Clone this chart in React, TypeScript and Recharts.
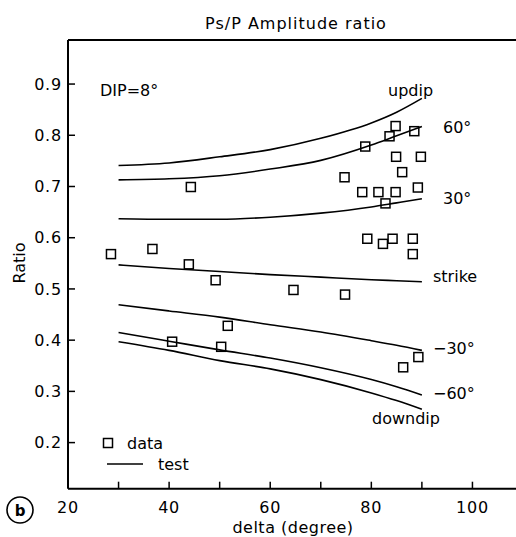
import React from 'react';
import { ComposedChart, Line, Scatter, XAxis, YAxis, ReferenceLine } from 'recharts';

// model curves, sampled at these epicentral distances
const DELTA = [30, 40, 50, 60, 70, 80, 85, 90];
const UPDIP = [0.741, 0.746, 0.758, 0.772, 0.794, 0.824, 0.845, 0.872];
const RAKE_60 = [0.713, 0.715, 0.721, 0.734, 0.751, 0.781, 0.799, 0.817];
const RAKE_30 = [0.637, 0.636, 0.636, 0.64, 0.648, 0.66, 0.668, 0.676];
const STRIKE = [0.547, 0.54, 0.534, 0.528, 0.523, 0.518, 0.516, 0.514];
const RAKE_M30 = [0.469, 0.457, 0.445, 0.43, 0.416, 0.399, 0.39, 0.38];
const RAKE_M60 = [0.415, 0.398, 0.381, 0.365, 0.346, 0.323, 0.309, 0.293];
const DOWNDIP = [0.397, 0.38, 0.36, 0.344, 0.323, 0.297, 0.282, 0.265];

// observed ratios
const OBS_DELTA = [
  28.5, 36.7, 43.9, 49.2, 64.6, 51.6, 40.6, 50.3, 44.3, 84.8,
  88.5, 83.6, 78.8, 84.9, 89.8, 86.1, 74.7, 78.2, 81.4, 84.8,
  89.2, 82.8, 79.2, 82.3, 84.2, 88.2, 88.2, 74.8, 89.3, 86.3,
];
const OBS_RATIO = [
  0.568, 0.578, 0.548, 0.517, 0.498, 0.428, 0.397, 0.387, 0.699, 0.818,
  0.808, 0.798, 0.778, 0.758, 0.758, 0.728, 0.718, 0.689, 0.689, 0.689,
  0.698, 0.667, 0.598, 0.588, 0.598, 0.598, 0.568, 0.489, 0.367, 0.347,
];

const X_TICKS = [20, 30, 40, 50, 60, 70, 80, 90, 100, 110];
const Y_TICKS = [0.2, 0.3, 0.4, 0.5, 0.6, 0.7, 0.8, 0.9];
const Y_MIN = 0.11;
const Y_MAX = 0.986;

const FONT = 'DejaVu Sans';

const toRows = (ys: number[]) => DELTA.map((x, i) => ({ x, y: ys[i] }));
const curves = [UPDIP, RAKE_60, RAKE_30, STRIKE, RAKE_M30, RAKE_M60, DOWNDIP].map(toRows);
const obs = OBS_DELTA.map((x, i) => ({ x, y: OBS_RATIO[i] }));

const XTick = (props: any) => {
  const { x, y, payload } = props;
  const v = payload.value;
  return (
    <g>
      {v > 20 && v < 110 && <line x1={x} x2={x} y1={y} y2={y - 7} stroke="#000" strokeWidth={1.5} />}
      {v % 20 === 0 && v <= 100 && (
        <text x={x} y={y + 24} textAnchor="middle" fontFamily={FONT} fontSize={16} fill="#000" letterSpacing={0.8}>
          {v}
        </text>
      )}
    </g>
  );
};

const YTick = (props: any) => {
  const { x, y, payload } = props;
  return (
    <g>
      <line x1={x} x2={x + 7} y1={y} y2={y} stroke="#000" strokeWidth={1.5} />
      <text x={x - 6} y={y} dy="0.36em" textAnchor="end" fontFamily={FONT} fontSize={16} fill="#000" letterSpacing={0.8}>
        {payload.value.toFixed(1)}
      </text>
    </g>
  );
};

const Square = (props: any) => {
  const { cx, cy } = props;
  return <rect x={cx - 4.5} y={cy - 4.5} width={9} height={9} fill="none" stroke="#000" strokeWidth={1.5} />;
};

const txt = { fontFamily: FONT, fontSize: 16, fill: '#000' };

export default function App() {
  return (
    <div style={{ position: 'fixed', left: 0, top: 0, width: 516, height: 537, overflow: 'hidden', background: '#fff' }}>
      <ComposedChart width={530} height={537} margin={{ top: 40, right: 7, bottom: 0, left: 0 }}>
        <XAxis
          type="number"
          dataKey="x"
          domain={[20, 110]}
          ticks={X_TICKS}
          interval={0}
          height={48.3}
          tickSize={0}
          tickMargin={0}
          tickLine={false}
          tick={<XTick />}
          axisLine={{ stroke: '#000', strokeWidth: 2 }}
        />
        <YAxis
          type="number"
          domain={[Y_MIN, Y_MAX]}
          ticks={Y_TICKS}
          interval={0}
          width={68}
          tickSize={0}
          tickMargin={0}
          tickLine={false}
          tick={<YTick />}
          axisLine={{ stroke: '#000', strokeWidth: 2 }}
        />
        <ReferenceLine y={Y_MAX} stroke="#000" strokeWidth={2} />
        {curves.map((rows, i) => (
          <Line
            key={i}
            data={rows}
            dataKey="y"
            type="monotone"
            stroke="#000"
            strokeWidth={1.6}
            dot={false}
            isAnimationActive={false}
          />
        ))}
        <Scatter data={obs} dataKey="y" shape={<Square />} isAnimationActive={false} />

        <text x={296} y={29} textAnchor="middle" {...txt} letterSpacing={1}>Ps/P Amplitude ratio</text>
        <text x={100} y={96} {...txt}>DIP=8°</text>
        <text x={388} y={96} {...txt}>updip</text>
        <text x={443} y={133} {...txt}>60°</text>
        <text x={443} y={204} {...txt}>30°</text>
        <text x={433} y={282} {...txt}>strike</text>
        <text x={433} y={354} {...txt}>−30°</text>
        <text x={433} y={399} {...txt}>−60°</text>
        <text x={372} y={424} {...txt}>downdip</text>

        <rect x={103.5} y={438.5} width={9} height={9} fill="none" stroke="#000" strokeWidth={1.5} />
        <text x={127} y={449} {...txt}>data</text>
        <line x1={107} x2={143} y1={464} y2={464} stroke="#000" strokeWidth={1.6} />
        <text x={158} y={470} {...txt}>test</text>

        <text x={293} y={533} textAnchor="middle" {...txt} letterSpacing={0.5}>delta (degree)</text>
        <text x={19} y={263} textAnchor="middle" {...txt} transform="rotate(-90 19 263)" dy="0.35em">Ratio</text>
        <circle cx={20} cy={510} r={13} fill="none" stroke="#000" strokeWidth={1.6} />
        <text x={20} y={516} textAnchor="middle" fontFamily={FONT} fontSize={15} fontWeight="bold">b</text>
      </ComposedChart>
    </div>
  );
}
